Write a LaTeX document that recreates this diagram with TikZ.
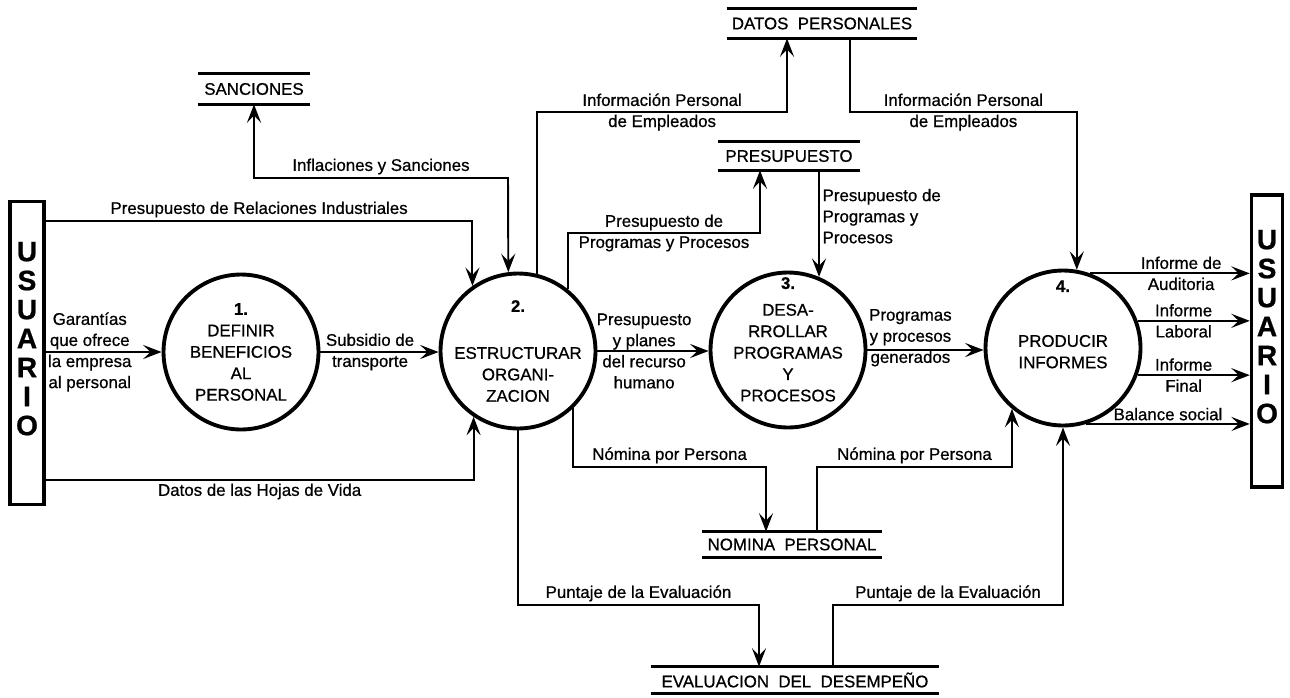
\documentclass[tikz,border=0pt]{standalone}
\usepackage{fontspec}
\setmainfont{Liberation Sans}[FakeBold=0.7]
\usetikzlibrary{arrows.meta}

\tikzset{
  proc/.style={circle, draw, line width=2.2pt, minimum size=3.1cm, inner sep=0pt},
  proctext/.style={align=center, inner sep=0pt, font=\fontsize{9.6}{12.2}\selectfont},
  ent/.style={rectangle, draw, line width=2pt, inner sep=0pt, align=center,
    font=\fontsize{16}{16.5}\selectfont\bfseries},
  datastore/.style={inner sep=0pt, font=\fontsize{9.6}{12}\selectfont},
  storeline/.style={line width=1.4pt},
  flowline/.style={line width=1.1pt, ->},
  lbl/.style={align=center, inner sep=1.5pt, font=\fontsize{9.6}{12}\selectfont},
}

\begin{document}
\begin{tikzpicture}[x=0.02cm, y=-0.02cm, >={Stealth[length=10.5pt,width=8pt,inset=4.2pt]}]
  \useasboundingbox (0,0) rectangle (1290,697);

  % external entities
  \node[ent, minimum width=0.68cm, minimum height=6.06cm] (usr1) at (27,353) {U\\S\\U\\A\\R\\I\\O\\\mbox{}};
  \node[ent, minimum width=0.62cm, minimum height=5.84cm] (usr2) at (1267,341) {U\\S\\U\\A\\R\\I\\O\\\mbox{}};

  % processes
  \node[proc, label={[proctext]center:{\textbf{1.}\\DEFINIR\\BENEFICIOS\\AL\\PERSONAL}}] (c1) at (241,352) {};
  \node[proc, label={[proctext]center:{\textbf{2.}\\[14.5pt]ESTRUCTURAR\\ORGANI-\\ZACION}}] (c2) at (518,351) {};
  \node[proc, label={[proctext]center:{\textbf{3.}\\[3pt]DESA-\\RROLLAR\\PROGRAMAS\\Y\\PROCESOS\\\mbox{}}}] (c3) at (788,350) {};
  \node[proc, label={[proctext]center:{\textbf{4.}\\[19pt]PRODUCIR\\INFORMES\\[14.8pt]\mbox{}}}] (c4) at (1063,348) {};

  % data stores
  \node[datastore, minimum width=2.24cm, minimum height=0.6cm] (sanc) at (254,89) {SANCIONES};
  \node[datastore, minimum width=3.8cm, minimum height=0.58cm] (datos) at (822,23.5) {DATOS\ \ PERSONALES};
  \node[datastore, minimum width=2.84cm, minimum height=0.56cm] (presu) at (789,156) {PRESUPUESTO};
  \node[datastore, minimum width=3.58cm, minimum height=0.5cm] (nomina) at (792,544.5) {NOMINA\ \ PERSONAL};
  \node[datastore, minimum width=5.74cm, minimum height=0.52cm] (evalu) at (795,680) {EVALUACION\ \ DEL\ \ DESEMPEÑO};
  \foreach \s in {sanc,datos,presu,nomina,evalu}
    \draw[storeline] (\s.north west) -- (\s.north east) (\s.south west) -- (\s.south east);

  % bends
  \coordinate (rA) at (473,221);
  \coordinate (rB) at (475,480);
  \coordinate (rC) at (508,178);
  \coordinate (dA) at (787,112);
  \coordinate (dB) at (850,112);
  \coordinate (pA) at (760,233);
  \coordinate (nA) at (766,467);
  \coordinate (nB) at (817,467);
  \coordinate (eA) at (759,605);
  \coordinate (eB) at (833,605);

  % flows
  \draw[flowline] (usr1.east |- c1.west) -- node[lbl, pos=0.38] {Garantías\\que ofrece\\la empresa\\al personal} (c1.west);
  \draw[flowline] (c1.east) -- node[lbl, pos=0.42] {Subsidio de\\transporte} (c1.east -| c2.west);
  \draw[flowline] (usr1.east |- rA) -| node[lbl, above, pos=0.25] {Presupuesto de Relaciones Industriales} (c2.125);
  \draw[flowline] (usr1.east |- rB) -| node[lbl, below, pos=0.25] {Datos de las Hojas de Vida} (c2.236);
  \draw[flowline, <->] (sanc.south) |- node[lbl, above, pos=0.75] {Inflaciones y Sanciones} (rC) -- (c2.97);

  \draw[flowline] (c2.76) |- node[lbl, pos=0.75] {Información Personal\\de Empleados} (dA) -- (dA |- datos.south);
  \draw[flowline] (dB |- datos.south) -- (dB) -| node[lbl, pos=0.25] {Información Personal\\de Empleados} (c4.80);
  \draw[flowline] (c2.51) |- node[lbl, pos=0.75] {Presupuesto de\\Programas y Procesos} (pA) -- (pA |- presu.south);
  \draw[flowline] (c3.67 |- presu.south) -- node[lbl, right, align=left, pos=0.43] {Presupuesto de\\Programas y\\Procesos} (c3.67);

  \draw[flowline] (c2.east) -- node[lbl, pos=0.42] {Presupuesto\\y planes\\del recurso\\humano} (c2.east -| c3.west);
  \draw[flowline] (c3.east) -- node[lbl, pos=0.37, yshift=7pt] {Programas\\y procesos\\generados} (c3.east -| c4.west);

  \draw[flowline] (c4.70) -- node[lbl, pos=0.57] {Informe de\\Auditoria} (c4.70 -| usr2.west);
  \draw[flowline] (c4.20) -- node[lbl, pos=0.41] {Informe\\Laboral} (c4.20 -| usr2.west);
  \draw[flowline] (c4.-20) -- node[lbl, pos=0.41] {Informe\\Final} (c4.-20 -| usr2.west);
  \draw[flowline] (c4.-73) -- node[lbl, above, pos=0.5] {Balance social} (c4.-73 -| usr2.west);

  \draw[flowline] (c2.-46) |- node[lbl, above, pos=0.75] {Nómina por Persona} (nA) -- (nA |- nomina.north);
  \draw[flowline] (nB |- nomina.north) -- (nB) -| node[lbl, above, pos=0.25] {Nómina por Persona} (c4.-130);
  \draw[flowline] (c2.south) |- node[lbl, above, pos=0.75] {Puntaje de la Evaluación} (eA) -- (eA |- evalu.north);
  \draw[flowline] (eB |- evalu.north) -- (eB) -| node[lbl, above, pos=0.25] {Puntaje de la Evaluación} (c4.south);
\end{tikzpicture}
\end{document}
